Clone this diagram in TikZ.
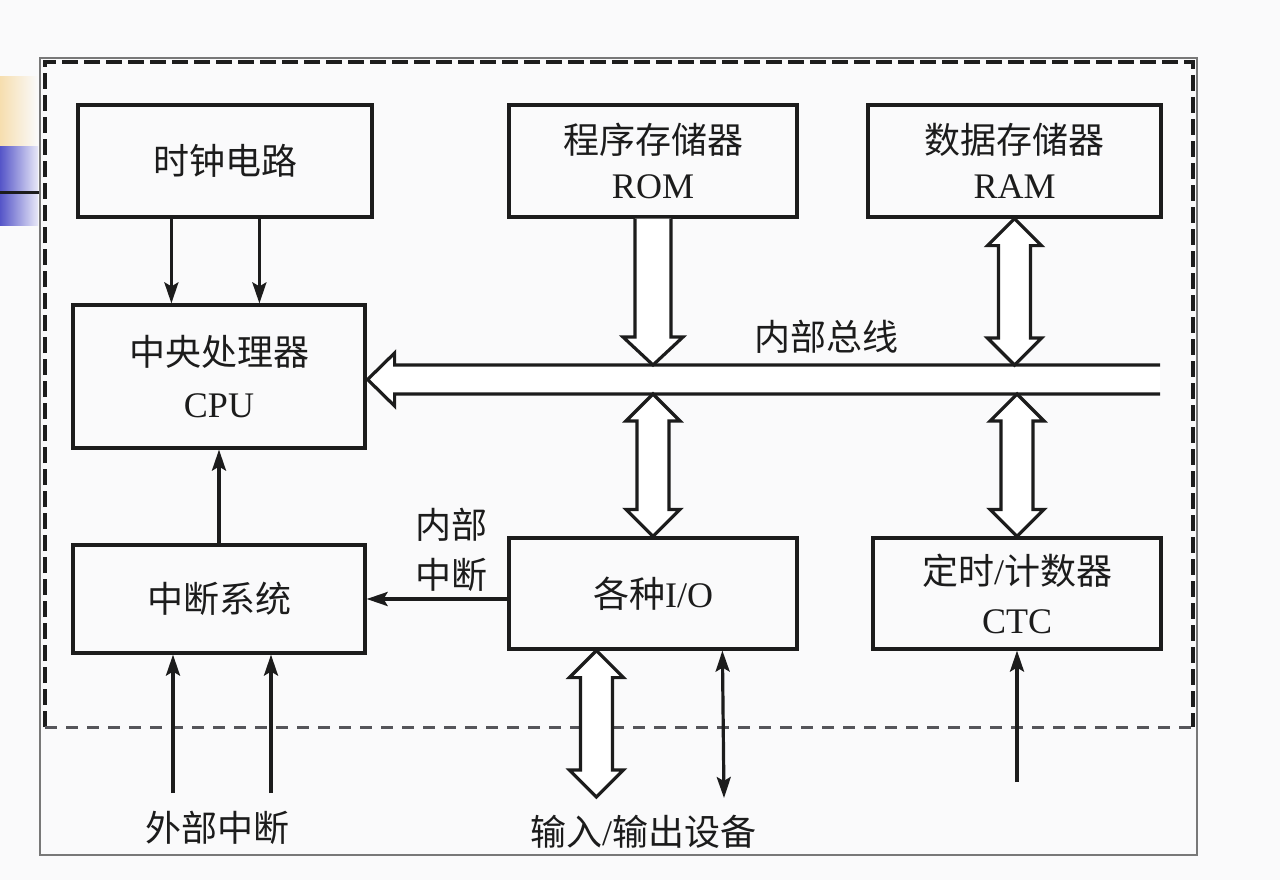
\documentclass[tikz,border=0pt]{standalone}
\usepackage{fontspec}
\setmainfont{Liberation Serif}
\newfontfamily\cjk{Noto Sans CJK SC}
\usetikzlibrary{calc,arrows.meta}
\definecolor{ink}{RGB}{28,28,28}
\definecolor{bgc}{RGB}{250,250,251}
\definecolor{framegray}{RGB}{120,120,120}
\definecolor{dashgray}{RGB}{85,85,90}
\newcommand\dblhollow[2]{\draw[hollow] let \p1=(#1), \p2=(#2) in
  (\x1,\y1) -- (\x1+27pt,\y1-27pt) -- (\x1+16pt,\y1-27pt) -- (\x1+16pt,\y2+27pt)
  -- (\x1+27pt,\y2+27pt) -- (\x1,\y2) -- (\x1-27pt,\y2+27pt) -- (\x1-16pt,\y2+27pt)
  -- (\x1-16pt,\y1-27pt) -- (\x1-27pt,\y1-27pt) -- cycle;}
\newcommand\downhollow[2]{\draw[hollow] let \p1=(#1), \p2=(#2) in
  (\x1-18pt,\y1) -- (\x1-18pt,\y2+28pt) -- (\x1-30pt,\y2+28pt) -- (\x1,\y2)
  -- (\x1+30pt,\y2+28pt) -- (\x1+18pt,\y2+28pt) -- (\x1+18pt,\y1);}
\begin{document}
\begin{tikzpicture}[x=1pt,y=-1pt,
  box/.style={draw=ink, line width=3.2pt, inner sep=0pt, align=center, text=ink,
    font=\fontsize{36}{45}\selectfont},
  lbl/.style={inner sep=0pt, align=center, text=ink, font=\fontsize{36}{50}\selectfont},
  hollow/.style={draw=ink, line width=3.2pt, fill=white, line join=miter},
  arr/.style={draw=ink, line width=3.2pt, -{Stealth[length=21pt,width=14pt,inset=4pt]}},
  darr/.style={draw=ink, line width=3.2pt, {Stealth[length=21pt,width=14pt,inset=4pt]}-{Stealth[length=21pt,width=14pt,inset=4pt]}}]
\fill[bgc] (0,0) rectangle (1280,880);
\useasboundingbox (0,0) rectangle (1280,880);
% left slide decoration
\shade[left color={rgb,255:red,246;green,222;blue,175}, right color=bgc] (0,77) rectangle (38,147);
\shade[left color={rgb,255:red,85;green,85;blue,200}, right color={rgb,255:red,232;green,232;blue,248}] (0,147) rectangle (38,225);
\draw[ink, line width=3pt] (0,192) -- (40,192);
% frames
\draw[framegray, line width=2pt] (40,58) rectangle (1197,855);
\draw[ink, line width=3.8pt, dash pattern=on 16pt off 6pt] (45,727) -- (45,62) -- (1193,62) -- (1193,727);
\draw[dashgray, line width=3pt, dash pattern=on 12pt off 9pt] (45,727) -- (1193,727);
% boxes
\node[box, minimum width=294pt, minimum height=112pt] (clock) at (225,161) {\cjk 时钟电路};
\node[box, minimum width=288pt, minimum height=112pt] (rom) at (653,161) {{\cjk 程序存储器}\\ROM};
\node[box, minimum width=293pt, minimum height=112pt] (ram) at (1014.5,161) {{\cjk 数据存储器}\\RAM};
\node[box, minimum width=292pt, minimum height=143pt, font=\fontsize{36}{52}\selectfont] (cpu) at (219,376.5) {{\cjk 中央处理器}\\CPU};
\node[box, minimum width=292pt, minimum height=108pt] (intr) at (219,599) {\cjk 中断系统};
\node[box, minimum width=288pt, minimum height=111pt] (io) at (653,593.5) {{\cjk 各种}I/O};
\node[box, minimum width=288pt, minimum height=111pt, font=\fontsize{36}{49}\selectfont] (ctc) at (1017,593.5) {{\cjk 定时}/{\cjk 计数器}\\CTC};
% labels
\node[lbl] (buslbl) at (826,337) {\cjk 内部总线};
\node[lbl] (intlbl) at (451,550) {\cjk 内部\\\cjk 中断};
\node[lbl] (extlbl) at (217,828) {\cjk 外部中断};
\node[lbl] (iolbl) at (643,832) {{\cjk 输入}/{\cjk 输出设备}};
% bus
\coordinate (bustip) at ($(cpu.east)+(1,3)$);
\coordinate (bustop) at (1160,365);
\coordinate (busbot) at (1160,394);
\draw[hollow] let \p1=(bustip), \p2=(bustop), \p3=(busbot) in
  (\x2,\y2) -- (\x1+27pt,\y2) -- (\x1+27pt,\y1+26.5pt) -- (\x1,\y1)
  -- (\x1+27pt,\y1-26.5pt) -- (\x1+27pt,\y3) -- (\x3,\y3);
% hollow connectors
\downhollow{rom.south}{rom.south |- bustop}
\dblhollow{ram.south}{ram.south |- bustop}
\dblhollow{io.north |- busbot}{io.north}
\dblhollow{ctc.north |- busbot}{ctc.north}
\coordinate (iobus) at ($(io.south west)+(89,0)$);
\coordinate (iobend) at (598,797);
\dblhollow{iobus}{iobend}
% thin connectors
\coordinate (ck1) at ($(clock.south west)+(95,0)$);
\coordinate (ck2) at ($(clock.south west)+(183,0)$);
\draw[arr] (ck1) -- (ck1 |- cpu.north);
\draw[arr] (ck2) -- (ck2 |- cpu.north);
\draw[arr] (intr.north) -- (cpu.south);
\draw[arr] (io.west |- intr.east) -- (intr.east);
\coordinate (ext1) at (173,793);
\coordinate (ext2) at (271,793);
\draw[arr] (ext1) -- (ext1 |- intr.south);
\draw[arr] (ext2) -- (ext2 |- intr.south);
\coordinate (ctcin) at (1017,782);
\draw[arr] (ctcin) -- (ctcin |- ctc.south);
\coordinate (iothin) at ($(io.south west)+(215,0)$);
\coordinate (iothinend) at (724,798);
\draw[darr] (iothin) -- (iothinend);
\end{tikzpicture}
\end{document}
